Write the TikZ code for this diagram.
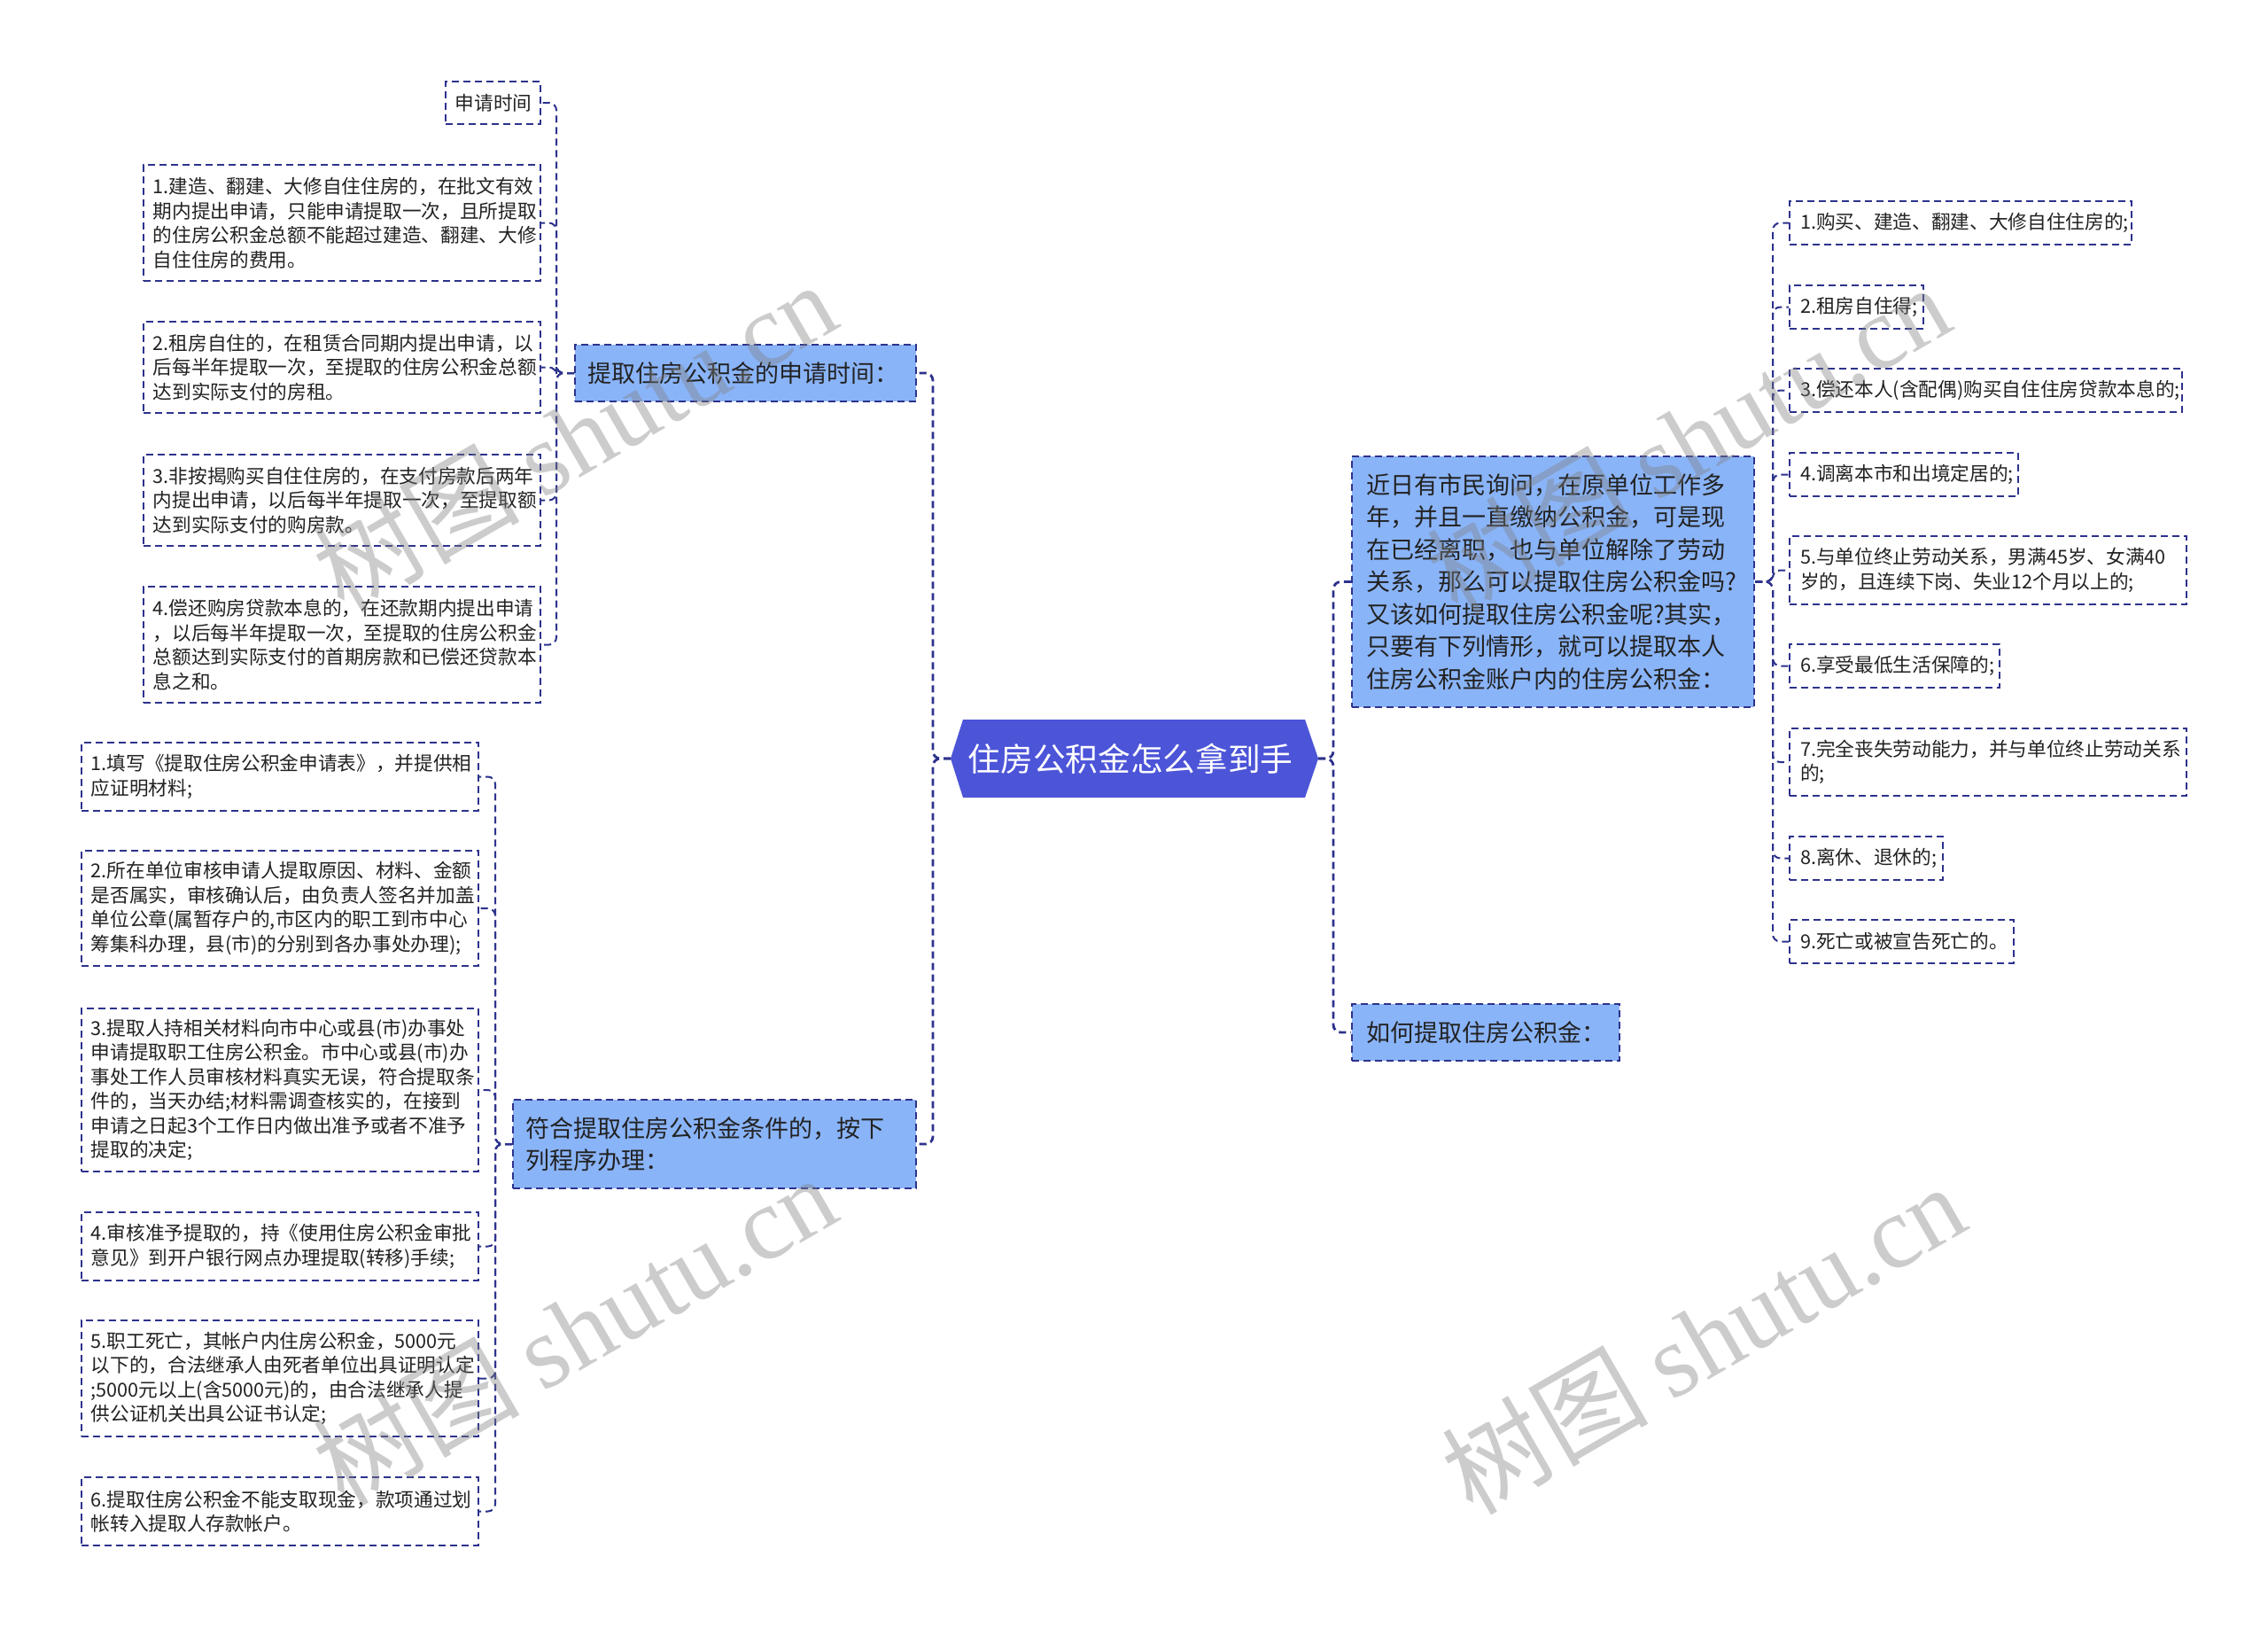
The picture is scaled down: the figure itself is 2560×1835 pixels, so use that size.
\documentclass[tikz,border=0pt]{standalone}
\usepackage{fontspec}
\setmainfont{Noto Sans CJK SC}
\newfontfamily\wmserif{Liberation Serif}
\usetikzlibrary{calc}
\definecolor{lineblue}{RGB}{45,50,140}
\definecolor{rootblue}{RGB}{76,84,216}
\definecolor{lvlblue}{RGB}{138,180,248}
\definecolor{txtdark}{RGB}{34,34,34}
\tikzset{
  conn/.style={draw=lineblue, line width=0.6pt, dash pattern=on 2.4pt off 1.5pt, rounded corners=2.5pt},
  mainconn/.style={conn, line width=0.85pt},
  leafbox/.style={draw=lineblue, line width=0.55pt, dash pattern=on 2.4pt off 1.5pt, fill=white,
    text=txtdark, inner ysep=0pt, align=left, font=\fontsize{6.5pt}{8.25pt}\selectfont},
  topicbox/.style={draw=lineblue, line width=0.6pt, dash pattern=on 2.4pt off 1.5pt, fill=lvlblue,
    text=txtdark, inner ysep=0pt, align=left, font=\fontsize{8.1pt}{10.95pt}\selectfont},
  watermark/.style={rotate=30, text=gray, opacity=0.4, font=\fontsize{35pt}{40pt}\selectfont, inner sep=0pt}
}
% name, style, pad(pt), x1, y1, x2, y2, text
\newcommand\placebox[8]{%
  \pgfmathsetmacro\pbW{(#6-#4)*0.3}%
  \pgfmathsetmacro\pbH{(#7-#5)*0.3}%
  \pgfmathsetmacro\pbX{(#4+#6)/2}%
  \pgfmathsetmacro\pbY{(#5+#7)/2}%
  \pgfmathsetmacro\pbT{(#6-#4)*0.3-2*#3}%
  \node[#2, inner xsep=#3pt, minimum width=\pbW pt, minimum height=\pbH pt, text width=\pbT pt] (#1) at (\pbX,\pbY) {#8};%
}
\begin{document}
\begin{tikzpicture}[x=0.3pt, y=-0.3pt]
\useasboundingbox (0,0) rectangle (2560,1835);
\fill[white] (0,0) rectangle (2560,1835);

% root
\fill[rootblue] (1087,812) -- (1473,812) -- (1488,856) -- (1473,900) -- (1087,900) -- (1073,856) -- cycle;
\node[text=white, font=\fontsize{11pt}{13pt}\selectfont, inner sep=0pt] (root) at (1276,856) {住房公积金怎么拿到手};
\coordinate (rootR) at (1488,856);
\coordinate (rootL) at (1073,856);

% level 1
\placebox{A}{topicbox}{4.4}{649}{389}{1034}{453}{提取住房公积金的申请时间：}
\placebox{B}{topicbox}{4.4}{579}{1241}{1034}{1341}{符合提取住房公积金条件的，按下\\列程序办理：}
\placebox{C}{topicbox}{4.8}{1526}{515}{1980}{798}{近日有市民询问，在原单位工作多\\年，并且一直缴纳公积金，可是现\\在已经离职，也与单位解除了劳动\\关系，那么可以提取住房公积金吗?\\又该如何提取住房公积金呢?其实，\\只要有下列情形，就可以提取本人\\住房公积金账户内的住房公积金：}
\placebox{D}{topicbox}{4.8}{1526}{1133}{1828}{1197}{如何提取住房公积金：}

% A children
\placebox{A0}{leafbox}{3.2}{503}{92}{610}{140}{申请时间}
\placebox{A1}{leafbox}{3.2}{162}{186}{610}{317}{1.建造、翻建、大修自住住房的，在批文有效\\期内提出申请，只能申请提取一次，且所提取\\的住房公积金总额不能超过建造、翻建、大修\\自住住房的费用。}
\placebox{A2}{leafbox}{3.2}{162}{363}{610}{466}{2.租房自住的，在租赁合同期内提出申请，以\\后每半年提取一次，至提取的住房公积金总额\\达到实际支付的房租。}
\placebox{A3}{leafbox}{3.2}{162}{513}{610}{616}{3.非按揭购买自住住房的，在支付房款后两年\\内提出申请，以后每半年提取一次，至提取额\\达到实际支付的购房款。}
\placebox{A4}{leafbox}{3.2}{162}{662}{610}{793}{4.偿还购房贷款本息的，在还款期内提出申请\\，以后每半年提取一次，至提取的住房公积金\\总额达到实际支付的首期房款和已偿还贷款本\\息之和。}

% B children
\placebox{B1}{leafbox}{3.2}{92}{838}{540}{915}{1.填写《提取住房公积金申请表》，并提供相\\应证明材料;}
\placebox{B2}{leafbox}{3.2}{92}{960}{540}{1090}{2.所在单位审核申请人提取原因、材料、金额\\是否属实，审核确认后，由负责人签名并加盖\\单位公章(属暂存户的,市区内的职工到市中心\\筹集科办理，县(市)的分别到各办事处办理);}
\placebox{B3}{leafbox}{3.2}{92}{1138}{540}{1322}{3.提取人持相关材料向市中心或县(市)办事处\\申请提取职工住房公积金。市中心或县(市)办\\事处工作人员审核材料真实无误，符合提取条\\件的，当天办结;材料需调查核实的，在接到\\申请之日起3个工作日内做出准予或者不准予\\提取的决定;}
\placebox{B4}{leafbox}{3.2}{92}{1368}{540}{1445}{4.审核准予提取的，持《使用住房公积金审批\\意见》到开户银行网点办理提取(转移)手续;}
\placebox{B5}{leafbox}{3.2}{92}{1490}{540}{1621}{5.职工死亡，其帐户内住房公积金，5000元\\以下的，合法继承人由死者单位出具证明认定\\;5000元以上(含5000元)的，由合法继承人提\\供公证机关出具公证书认定;}
\placebox{B6}{leafbox}{3.2}{92}{1667}{540}{1744}{6.提取住房公积金不能支取现金，款项通过划\\帐转入提取人存款帐户。}

% C children
\placebox{R1}{leafbox}{3.6}{2020}{227}{2406}{276}{1.购买、建造、翻建、大修自住住房的;}
\placebox{R2}{leafbox}{3.6}{2020}{322}{2171}{371}{2.租房自住得;}
\placebox{R3}{leafbox}{3.6}{2020}{416}{2463}{465}{3.偿还本人(含配偶)购买自住住房贷款本息的;}
\placebox{R4}{leafbox}{3.6}{2020}{511}{2278}{560}{4.调离本市和出境定居的;}
\placebox{R5}{leafbox}{3.6}{2020}{605}{2468}{682}{5.与单位终止劳动关系，男满45岁、女满40\\岁的，且连续下岗、失业12个月以上的;}
\placebox{R6}{leafbox}{3.6}{2020}{727}{2257}{776}{6.享受最低生活保障的;}
\placebox{R7}{leafbox}{3.6}{2020}{822}{2468}{898}{7.完全丧失劳动能力，并与单位终止劳动关系\\的;}
\placebox{R8}{leafbox}{3.6}{2020}{944}{2193}{993}{8.离休、退休的;}
\placebox{R9}{leafbox}{3.6}{2020}{1038}{2273}{1087}{9.死亡或被宣告死亡的。}

% connectors from root
\draw[mainconn] (rootL) -- ++(-20,0) |- (A.east);
\draw[mainconn] (rootL) -- ++(-20,0) |- (B.east);
\draw[mainconn] (rootR) -- ++(17,0) |- (C.west);
\draw[mainconn] (rootR) -- ++(17,0) |- (D.west);

% level 2 connectors
\foreach \c in {A0,A1,A2,A3,A4}
  \draw[conn] (A.west) -- ++(-20,0) |- (\c.east);
\foreach \c in {B1,B2,B3,B4,B5,B6}
  \draw[conn] (B.west) -- ++(-19,0) |- (\c.east);
\foreach \c in {R1,R2,R3,R4,R5,R6,R7,R8,R9}
  \draw[conn] (C.east) -- ++(20,0) |- (\c.west);

% watermarks
\node[watermark] (wm1) at (648,492) {树图 {\wmserif shutu.cn}};
\node[watermark] (wm2) at (648,1500) {树图 {\wmserif shutu.cn}};
\node[watermark] (wm3) at (1905,495) {树图 {\wmserif shutu.cn}};
\node[watermark] (wm4) at (1922,1510) {树图 {\wmserif shutu.cn}};
\end{tikzpicture}
\end{document}
